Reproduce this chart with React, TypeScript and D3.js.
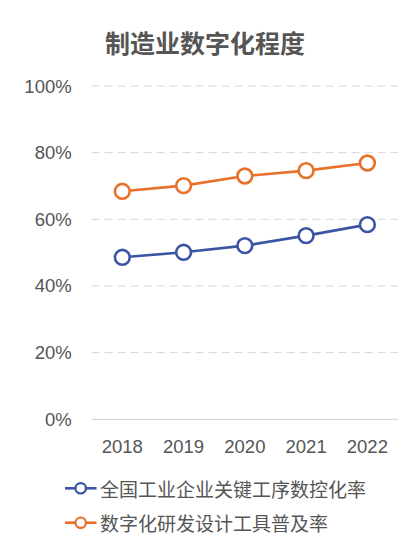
import React from "react";
import * as d3 from "d3";

const title = "制造业数字化程度";
const years = ["2018", "2019", "2020", "2021", "2022"];
const cncRate = [48.6, 50.1, 52.1, 55.1, 58.4];
const rdToolRate = [68.4, 70.1, 73.0, 74.6, 76.9];
const yTicks = [0, 20, 40, 60, 80, 100];
const seriesNames = ["全国工业企业关键工序数控化率", "数字化研发设计工具普及率"];
const seriesColors = ["#3b55a3", "#e8702a"];

const W = 417;
const H = 557;
const plotLeft = 91.7;
const plotRight = 398;
const plotTop = 86;
const plotBottom = 419.3;

export default function App() {
  const x = d3.scaleBand<string>().domain(years).range([plotLeft, plotRight]);
  const y = d3.scaleLinear().domain([0, 100]).range([plotBottom, plotTop]);
  const cx = (d: string) => (x(d) as number) + x.bandwidth() / 2;
  const line = d3
    .line<number>()
    .x((_, i) => cx(years[i]))
    .y((v) => y(v));
  const series = [cncRate, rdToolRate];
  const tickFont = "'Liberation Sans', Arial, sans-serif";
  const cjkFont = "'Noto Sans CJK SC', sans-serif";

  return (
    <svg
      width={W}
      height={H}
      style={{ position: "absolute", left: 0, top: 0, display: "block", background: "#fff" }}
    >
      <text
        x={205}
        y={53}
        textAnchor="middle"
        fontFamily={cjkFont}
        fontWeight={700}
        fontSize={25}
        fill="#555"
      >
        {title}
      </text>
      {yTicks.map((t) => (
        <g key={t}>
          <line
            x1={plotLeft}
            x2={plotRight}
            y1={y(t)}
            y2={y(t)}
            stroke={t === 0 ? "#cfcfcf" : "#d6d6d6"}
            strokeWidth={1}
            strokeDasharray={t === 0 ? undefined : "8 5"}
          />
          <text
            x={71.7}
            y={y(t)}
            textAnchor="end"
            dominantBaseline="central"
            fontFamily={tickFont}
            fontSize={18.5}
            fill="#555"
          >
            {t}%
          </text>
        </g>
      ))}
      {years.map((yr) => (
        <text
          key={yr}
          x={cx(yr)}
          y={453.3}
          textAnchor="middle"
          fontFamily={tickFont}
          fontSize={18.5}
          fill="#555"
        >
          {yr}
        </text>
      ))}
      {series.map((s, si) => (
        <g key={si}>
          <path d={line(s) || ""} fill="none" stroke={seriesColors[si]} strokeWidth={2.6} />
          {s.map((v, i) => (
            <circle
              key={i}
              cx={cx(years[i])}
              cy={y(v)}
              r={7.4}
              fill="#fff"
              stroke={seriesColors[si]}
              strokeWidth={2.6}
            />
          ))}
        </g>
      ))}
      {seriesNames.map((name, si) => {
        const ly = 488.3 + si * 34.4;
        return (
          <g key={name}>
            <line x1={65} x2={96.5} y1={ly} y2={ly} stroke={seriesColors[si]} strokeWidth={2.6} />
            <circle cx={80.7} cy={ly} r={5.2} fill="#fff" stroke={seriesColors[si]} strokeWidth={2.2} />
            <text
              x={100}
              y={ly}
              dominantBaseline="central"
              fontFamily={cjkFont}
              fontSize={19}
              fill="#555"
            >
              {name}
            </text>
          </g>
        );
      })}
    </svg>
  );
}
